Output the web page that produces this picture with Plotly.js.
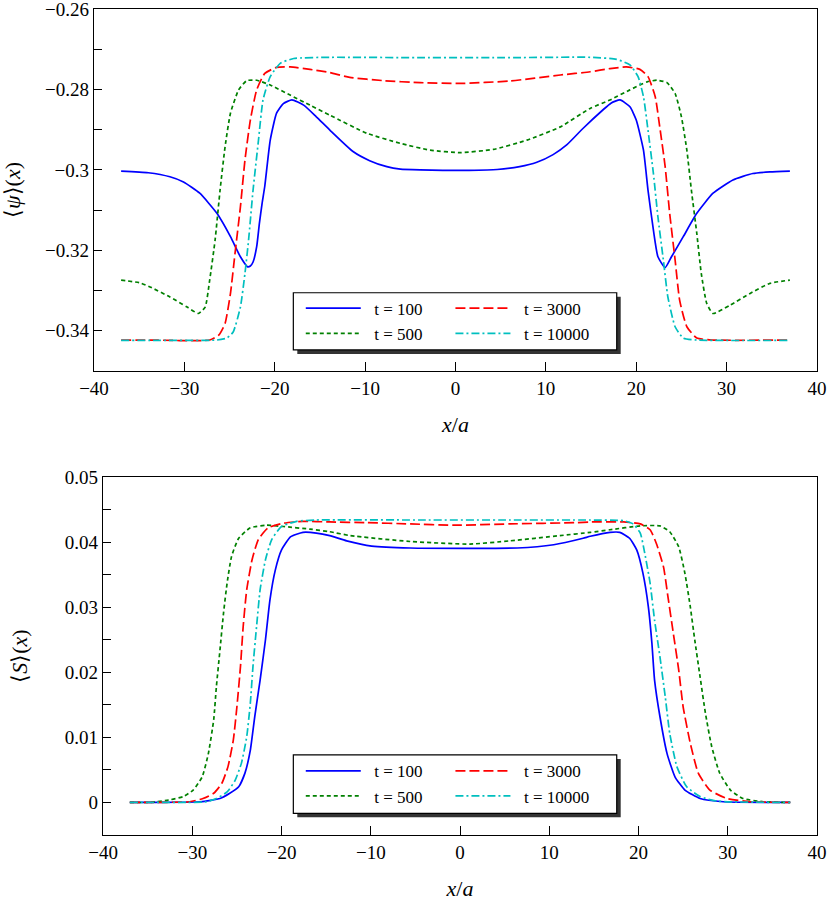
<!DOCTYPE html>
<html>
<head>
<meta charset="utf-8">
<script src="https://cdn.plot.ly/plotly-3.0.1.min.js"></script>
<style>
  html, body { margin: 0; padding: 0; background: #fff; }
  #plot { width: 830px; height: 903px; }
</style>
</head>
<body>
<div id="plot"></div>
<script>
// values, x in units of a

// top panel: <psi>(x)
var psiX100 = [-37, -34, -31.6, -30.1, -28.3, -26.4, -24.9, -23.8, -23.0, -22.7, -22.4, -22.0, -21.7, -21.4, -21.1, -20.5, -19.8, -19.05, -18.1, -16.8, -15.4, -13.9, -11.3, -9.5, -7.6, -6.1, -3.9, -1.4, 1.5, 4.6, 7.1, 9.0, 10.8, 12.3, 14.1, 16.3, 17.2, 18.2, 19.3, 20.0, 20.8, 21.3, 21.9, 22.4, 23.2, 23.9, 25.2, 26.7, 28.5, 30.7, 32.9, 34.8, 37];
var psi100  = [-0.3003, -0.3007, -0.3017, -0.3030, -0.3058, -0.3108, -0.3166, -0.3216, -0.3241, -0.3239, -0.3229, -0.3191, -0.3133, -0.3083, -0.3040, -0.2926, -0.2859, -0.2835, -0.2826, -0.2839, -0.2868, -0.2901, -0.2955, -0.2977, -0.2992, -0.2998, -0.3000, -0.3001, -0.3001, -0.2999, -0.2992, -0.2981, -0.2962, -0.2938, -0.2897, -0.2851, -0.2834, -0.2826, -0.2843, -0.2876, -0.2951, -0.3050, -0.3150, -0.3216, -0.3243, -0.3216, -0.3166, -0.3108, -0.3058, -0.3025, -0.3009, -0.3005, -0.3003];

var psiX500 = [-37, -34.9, -33.8, -31.6, -29.7, -28.45, -27.7, -27.2, -26.6, -26.05, -25.5, -24.9, -24.0, -23.1, -22.0, -20.5, -18.3, -16.1, -13.9, -9.8, -6.1, -2.8, 0.5, 4.2, 7.9, 11.6, 14.9, 17.1, 19.3, 21.2, 22.3, 23.4, 24.3, 25.0, 25.6, 26.1, 26.7, 27.2, 27.8, 28.5, 30.4, 32.6, 34.8, 37];
var psi500  = [-0.3274, -0.3281, -0.3291, -0.3316, -0.3341, -0.3357, -0.3341, -0.3274, -0.3174, -0.3050, -0.2943, -0.2859, -0.2801, -0.2778, -0.2777, -0.2789, -0.2814, -0.2839, -0.2864, -0.2909, -0.2934, -0.2951, -0.2957, -0.2949, -0.2926, -0.2893, -0.2847, -0.2826, -0.2801, -0.2781, -0.2777, -0.2783, -0.2810, -0.2868, -0.2951, -0.3050, -0.3158, -0.3258, -0.3332, -0.3357, -0.3336, -0.3307, -0.3282, -0.3274];

var psiX3000 = [-37, -33.8, -27.2, -26.2, -25.5, -24.9, -24.4, -23.8, -23.3, -22.7, -22.0, -21.1, -19.8, -18.3, -16.1, -13.9, -11.7, -8.0, -3.9, 0.5, 6.0, 11.6, 14.9, 17.1, 18.9, 20.4, 21.3, 22.1, 22.6, 23.2, 23.7, 24.3, 24.8, 25.6, 26.7, 28.5, 37];
var psi3000  = [-0.3423, -0.3423, -0.3423, -0.3411, -0.3382, -0.3307, -0.3208, -0.3092, -0.2976, -0.2876, -0.2801, -0.2760, -0.2745, -0.2744, -0.2750, -0.2758, -0.2770, -0.2778, -0.2783, -0.2785, -0.2779, -0.2764, -0.2756, -0.2748, -0.2744, -0.2750, -0.2768, -0.2818, -0.2893, -0.2992, -0.3108, -0.3224, -0.3324, -0.3390, -0.3418, -0.3423, -0.3423];

var psiX10000 = [-37, -33.8, -26.4, -25.3, -24.6, -23.8, -23.3, -22.9, -22.4, -21.8, -21.3, -20.5, -19.4, -17.9, -13.9, -3.9, 5.0, 14.9, 17.8, 19.3, 20.2, 20.8, 21.3, 21.9, 22.4, 23.0, 23.5, 24.3, 25.2, 26.7, 37];
var psi10000  = [-0.3424, -0.3424, -0.3423, -0.3418, -0.3403, -0.3341, -0.3258, -0.3175, -0.3050, -0.2926, -0.2826, -0.2768, -0.2735, -0.2723, -0.2720, -0.2721, -0.2721, -0.2720, -0.2725, -0.2739, -0.2768, -0.2818, -0.2901, -0.3009, -0.3117, -0.3224, -0.3316, -0.3390, -0.3418, -0.3423, -0.3424];

// bottom panel: <S>(x)
var sX100 = [-37, -34.7, -29.1, -26.9, -25.8, -24.8, -24.1, -23.5, -23.0, -22.4, -21.8, -21.3, -20.7, -20.0, -19.0, -17.6, -16.1, -14.6, -12.7, -9.9, -5.6, 6.4, 10.5, 13.8, 14.6, 16.8, 17.9, 19.0, 19.8, 20.5, 21.1, 21.5, 21.8, 22.4, 23.2, 24.1, 25.2, 26.9, 29.5, 37];
var s100  = [0, 0, 0.0001, 0.0006, 0.0014, 0.0024, 0.0045, 0.0080, 0.0132, 0.0188, 0.0250, 0.0311, 0.0357, 0.0388, 0.0408, 0.0415, 0.0414, 0.0410, 0.0402, 0.0394, 0.0391, 0.0391, 0.0396, 0.0406, 0.0409, 0.0415, 0.0415, 0.0406, 0.0388, 0.0352, 0.0301, 0.0245, 0.0188, 0.0132, 0.0075, 0.0039, 0.0019, 0.0006, 0.0001, 0];

var sX500 = [-37, -34.7, -32.5, -31.0, -29.9, -28.9, -28.2, -27.6, -27.3, -26.9, -26.5, -26.1, -25.6, -24.8, -23.5, -21.7, -19.8, -16.8, -14.6, -12.3, -5.6, 1.1, 5.6, 11.2, 14.6, 16.8, 20.2, 22.4, 23.5, 24.5, 25.2, 25.8, 26.3, 26.9, 27.5, 28.2, 29.1, 30.3, 31.7, 34.0, 37];
var s500  = [0, 0, 0.0004, 0.0009, 0.0019, 0.0039, 0.0075, 0.0127, 0.0178, 0.0234, 0.0291, 0.0337, 0.0378, 0.0406, 0.0422, 0.0426, 0.0424, 0.0420, 0.0416, 0.0410, 0.0401, 0.0397, 0.0402, 0.0410, 0.0415, 0.0419, 0.0425, 0.0425, 0.0416, 0.0393, 0.0352, 0.0301, 0.0250, 0.0193, 0.0137, 0.0086, 0.0045, 0.0019, 0.0006, 0.0001, 0];

var sX3000 = [-37, -34.7, -30.3, -28.8, -27.6, -26.7, -26.0, -25.4, -25.0, -24.6, -24.3, -23.9, -23.3, -22.6, -21.5, -19.8, -17.6, -14.6, -10.5, -5.6, -0.75, 5.6, 13.1, 14.6, 18.3, 20.2, 21.3, 22.0, 22.8, 23.3, 23.9, 24.5, 25.0, 25.8, 26.7, 28.0, 29.9, 32.5, 37];
var s3000  = [0, 0, 0.0001, 0.0006, 0.0014, 0.0029, 0.0055, 0.0096, 0.0147, 0.0209, 0.0270, 0.0327, 0.0373, 0.0404, 0.0422, 0.0429, 0.0432, 0.0431, 0.0430, 0.0428, 0.0426, 0.0428, 0.0430, 0.0431, 0.0431, 0.0428, 0.0419, 0.0398, 0.0362, 0.0316, 0.0260, 0.0204, 0.0147, 0.0091, 0.0045, 0.0019, 0.0006, 0.0001, 0];

var sX10000 = [-37, -30.5, -28.4, -27.3, -26.1, -25.2, -24.5, -23.9, -23.5, -23.2, -22.8, -22.4, -21.8, -21.1, -20.0, -18.3, -16.1, -4.5, 5.6, 14.6, 18.3, 19.4, 20.2, 20.7, 21.3, 21.8, 22.4, 23.0, 23.5, 24.3, 25.4, 26.9, 28.8, 37];
var s10000  = [0, 0, 0.0001, 0.0006, 0.0016, 0.0034, 0.0060, 0.0101, 0.0152, 0.0209, 0.0270, 0.0327, 0.0373, 0.0404, 0.0424, 0.0432, 0.0434, 0.0434, 0.0434, 0.0434, 0.0433, 0.0428, 0.0414, 0.0383, 0.0337, 0.0280, 0.0224, 0.0162, 0.0106, 0.0055, 0.0024, 0.0009, 0.0002, 0];

var seriesNames = ['t = 100', 't = 500', 't = 3000', 't = 10000'];

// tick labels
var xTickVals = [-40, -30, -20, -10, 0, 10, 20, 30, 40];
var xTickText = ['\u221240', '\u221230', '\u221220', '\u221210', '0', '10', '20', '30', '40'];
var psiTickVals = [-0.35, -0.34, -0.33, -0.32, -0.31, -0.30, -0.29, -0.28, -0.27, -0.26];
var psiTickText = ['', '\u22120.34', '', '\u22120.32', '', '\u22120.3', '', '\u22120.28', '', '\u22120.26'];
var sTickVals = [0, 0.005, 0.01, 0.015, 0.02, 0.025, 0.03, 0.035, 0.04, 0.045, 0.05];
var sTickText = ['0', '', '0.01', '', '0.02', '', '0.03', '', '0.04', '', '0.05'];

var FONT = 'Liberation Serif';

var styles = [
  {color: '#0000ff', dash: 'solid'},
  {color: '#008000', dash: '4px,3px'},
  {color: '#ff0000', dash: '10px,4px'},
  {color: '#00bfbf', dash: '8px,3px,2px,3px'}
];

function line(x, y, i, xa, ya, leg) {
  return {
    x: x, y: y, xaxis: xa, yaxis: ya,
    type: 'scatter', mode: 'lines',
    name: '\u00A0\u00A0' + seriesNames[i],
    legend: leg,
    line: {color: styles[i].color, dash: styles[i].dash, width: 1.7, shape: 'spline', smoothing: 0.5},
    hoverinfo: 'skip'
  };
}

var data = [
  line(psiX100, psi100, 0, 'x', 'y', 'legend'),
  line(psiX500, psi500, 1, 'x', 'y', 'legend'),
  line(psiX3000, psi3000, 2, 'x', 'y', 'legend2'),
  line(psiX10000, psi10000, 3, 'x', 'y', 'legend2'),
  line(sX100, s100, 0, 'x2', 'y2', 'legend3'),
  line(sX500, s500, 1, 'x2', 'y2', 'legend3'),
  line(sX3000, s3000, 2, 'x2', 'y2', 'legend4'),
  line(sX10000, s10000, 3, 'x2', 'y2', 'legend4')
];

function xAxis(domain, anchor) {
  return {
    domain: domain, anchor: anchor, range: [-40.001, 40.001],
    tickmode: 'array', tickvals: xTickVals, ticktext: xTickText,
    ticks: 'inside', ticklen: 9, tickwidth: 1, tickcolor: '#000',
    ticklabeloverflow: 'allow',
    showline: true, mirror: true, linecolor: '#000', linewidth: 1.3,
    showgrid: false, zeroline: false,
    tickfont: {family: FONT, size: 19, color: '#000'},
    title: {text: '<i>x</i>/<i>a</i>', font: {family: FONT, size: 22, color: '#000'}, standoff: 18}
  };
}

function yAxis(domain, anchor, range, vals, text, title, standoff) {
  return {
    domain: domain, anchor: anchor, range: range,
    tickmode: 'array', tickvals: vals, ticktext: text,
    ticks: 'inside', ticklen: 8, tickwidth: 1, tickcolor: '#000',
    ticklabeloverflow: 'allow',
    showline: true, mirror: true, linecolor: '#000', linewidth: 1.3,
    showgrid: false, zeroline: false,
    tickfont: {family: FONT, size: 19, color: '#000'},
    title: {text: title, font: {family: FONT, size: 22, color: '#000'}, standoff: standoff}
  };
}

function legendBox(x, yTop) {
  return {
    x: x, y: yTop, xanchor: 'left', yanchor: 'top',
    bgcolor: 'rgba(0,0,0,0)', borderwidth: 0,
    font: {family: FONT, size: 17, color: '#000'},
    itemwidth: 55, tracegroupgap: 0
  };
}

var topLeg = 0.659, botLeg = 0.099;
var layout = {
  width: 830, height: 903,
  margin: {l: 94, r: 13, t: 9, b: 68},
  font: {family: FONT, size: 19, color: '#000'},
  paper_bgcolor: '#fff', plot_bgcolor: '#fff',
  xaxis: xAxis([0, 1], 'y'),
  yaxis: yAxis([0.5617, 1], 'x', [-0.35001, -0.25999], psiTickVals, psiTickText, '\u27E8<i>\u03C8</i>\u27E9(<i>x</i>)', 21),
  xaxis2: xAxis([0.0125, 1], 'y2'),
  yaxis2: yAxis([0, 0.4334], 'x2', [-0.00501, 0.05001], sTickVals, sTickText, '\u27E8<i>S</i>\u27E9(<i>x</i>)', 31),
  legend: legendBox(0.286, topLeg),
  legend2: legendBox(0.493, topLeg),
  legend3: legendBox(0.286, botLeg),
  legend4: legendBox(0.493, botLeg),
  shapes: [
    // legend frames with drop shadow
    {type: 'rect', xref: 'paper', yref: 'paper', x0: 0.2812, x1: 0.7285, y0: 0.6517, y1: 0.5823,
     fillcolor: '#333', line: {width: 0}, layer: 'above'},
    {type: 'rect', xref: 'paper', yref: 'paper', x0: 0.2757, x1: 0.7230, y0: 0.6565, y1: 0.5872,
     fillcolor: '#fff', line: {color: '#000', width: 1.2}, layer: 'above'},
    {type: 'rect', xref: 'paper', yref: 'paper', x0: 0.2812, x1: 0.7285, y0: 0.0921, y1: 0.0215,
     fillcolor: '#333', line: {width: 0}, layer: 'above'},
    {type: 'rect', xref: 'paper', yref: 'paper', x0: 0.2757, x1: 0.7230, y0: 0.0969, y1: 0.0263,
     fillcolor: '#fff', line: {color: '#000', width: 1.2}, layer: 'above'}
  ]
};

Plotly.newPlot('plot', data, layout, {staticPlot: true});
</script>
</body>
</html>
